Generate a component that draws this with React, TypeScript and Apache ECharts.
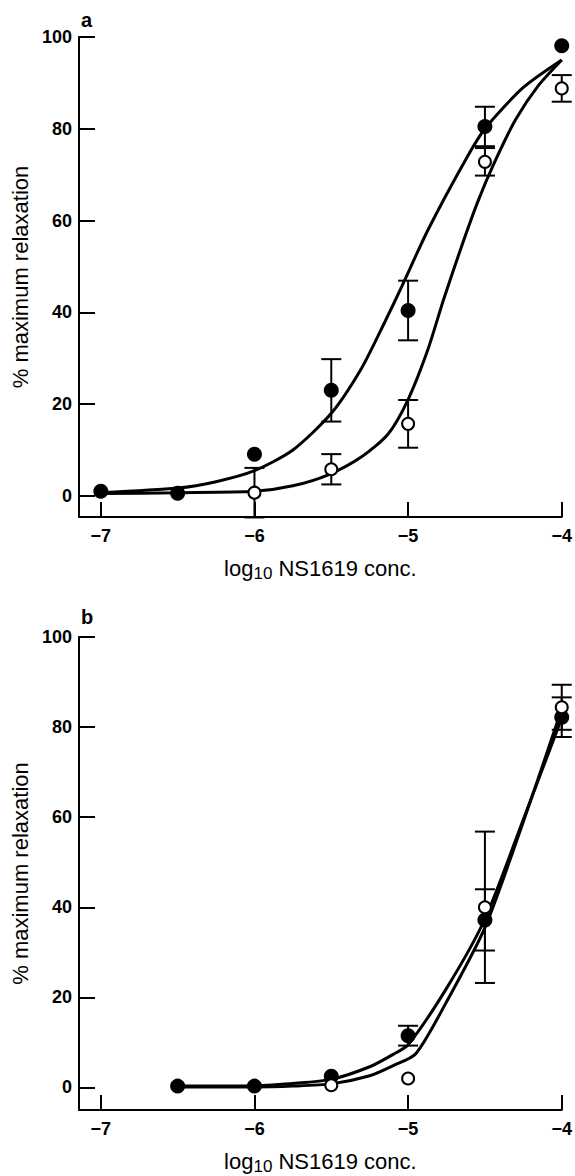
import React, { useEffect, useRef } from "react";
import * as echarts from "echarts";

const FONT = "Liberation Sans, Arial, Helvetica, sans-serif";

// Axis ticks and labels
const xTicks = [-7, -6, -5, -4];
const xTickLabels = ["−7", "−6", "−5", "−4"];
const yTicks = [0, 20, 40, 60, 80, 100];
const xTitle = "log{s|10} NS1619 conc.";
const yTitle = "% maximum relaxation";

// Panel a — filled circles
const aFilledX = [-7, -6.5, -6, -5.5, -5, -4.5, -4];
const aFilledY = [1.0, 0.6, 9.1, 23.0, 40.4, 80.5, 98.1];
const aFilledErr = [0, 0, 0, 6.8, 6.5, 4.3, 0];
// Panel a — open circles
const aOpenX = [-6, -5.5, -5, -4.5, -4];
const aOpenY = [0.7, 5.8, 15.7, 72.8, 88.8];
const aOpenErr = [5.4, 3.3, 5.2, 3.0, 2.9];
// Panel a — fitted curves
const aFilledCurveX = [-7, -6.5, -6.25, -6, -5.75, -5.5, -5.3, -5.15, -5.05, -4.87, -4.63, -4.5, -4.25, -4];
const aFilledCurveY = [0.7, 1.7, 3.1, 5.5, 10, 18, 28, 38, 45, 58, 73, 80, 89, 95];
const aOpenCurveX = [-7, -6.5, -6, -5.75, -5.52, -5.3, -5.13, -5, -4.87, -4.77, -4.66, -4.55, -4.44, -4.3, -4.15, -4];
const aOpenCurveY = [0.5, 0.7, 1.0, 2.2, 4.6, 8.6, 13.5, 21, 32, 42.7, 53.6, 63.8, 72.5, 82, 89.5, 95];

// Panel b — filled circles
const bFilledX = [-6.5, -6, -5.5, -5, -4.5, -4];
const bFilledY = [0.3, 0.3, 2.5, 11.5, 37.2, 82.2];
const bFilledErr = [0, 0, 0, 2.2, 6.8, 4.4];
// Panel b — open circles
const bOpenX = [-5.5, -5, -4.5, -4];
const bOpenY = [0.5, 2.0, 40.0, 84.4];
const bOpenErr = [0, 0, 16.8, 5.0];
// Panel b — fitted curves
const bFilledCurveX = [-6.5, -6, -5.75, -5.5, -5.25, -5.1, -5, -4.75, -4.5, -4.25, -4];
const bFilledCurveY = [0.3, 0.4, 0.9, 1.8, 4.6, 7.3, 9.5, 22, 37.4, 59.5, 82];
const bOpenCurveX = [-6.5, -6, -5.75, -5.5, -5.25, -5.1, -4.95, -4.75, -4.5, -4.25, -4];
const bOpenCurveY = [0.1, 0.1, 0.3, 0.8, 2.6, 4.8, 7.5, 19, 35.5, 59, 84];

const zip = (xs: number[], ys: number[]) => xs.map((x, i) => [x, ys[i]]);
const errData = (xs: number[], ys: number[], es: number[]) =>
  xs
    .map((x, i) => (es[i] ? [x, ys[i] - es[i], ys[i] + es[i]] : null))
    .filter((d) => d !== null);

const errRender = (params: any, api: any) => {
  const x = api.value(0);
  const lo = api.coord([x, api.value(1)]);
  const hi = api.coord([x, api.value(2)]);
  const hw = 10;
  const style = { stroke: "#000", lineWidth: 2, fill: null };
  return {
    type: "group",
    children: [
      { type: "line", shape: { x1: lo[0], y1: lo[1], x2: hi[0], y2: hi[1] }, style },
      { type: "line", shape: { x1: lo[0] - hw, y1: lo[1], x2: lo[0] + hw, y2: lo[1] }, style },
      { type: "line", shape: { x1: hi[0] - hw, y1: hi[1], x2: hi[0] + hw, y2: hi[1] }, style },
    ],
  };
};

const xAxisCfg = (gridIndex: number) => ({
  type: "value",
  gridIndex,
  min: -7.142,
  max: -4,
  name: xTitle,
  nameLocation: "middle",
  nameGap: 37,
  nameTextStyle: {
    color: "#000",
    fontSize: 22,
    fontFamily: FONT,
    lineHeight: 28,
    rich: { s: { fontSize: 17, fontFamily: FONT, color: "#000", lineHeight: 17, verticalAlign: "bottom" } },
  },
  axisLine: { onZero: false, lineStyle: { color: "#000", width: 2 } },
  axisTick: { inside: true, length: 15, customValues: xTicks, lineStyle: { color: "#000", width: 2 } },
  axisLabel: {
    customValues: xTicks,
    formatter: (v: number) => {
      const i = xTicks.findIndex((t) => Math.abs(t - v) < 1e-6);
      return i >= 0 ? xTickLabels[i] : "";
    },
    color: "#000",
    fontSize: 18,
    fontWeight: "bold",
    fontFamily: FONT,
    margin: 10,
  },
  splitLine: { show: false },
});

const yAxisCfg = (gridIndex: number, min: number) => ({
  type: "value",
  gridIndex,
  min,
  max: 100,
  name: yTitle,
  nameLocation: "middle",
  nameRotate: 90,
  nameGap: 43,
  nameTextStyle: { color: "#000", fontSize: 22, fontFamily: FONT },
  axisLine: { onZero: false, lineStyle: { color: "#000", width: 2 } },
  axisTick: { inside: true, length: 16, customValues: yTicks, lineStyle: { color: "#000", width: 2 } },
  axisLabel: {
    customValues: yTicks,
    color: "#000",
    fontSize: 18,
    fontWeight: "bold",
    fontFamily: FONT,
    margin: 7,
  },
  splitLine: { show: false },
});

const curve = (idx: number, xs: number[], ys: number[]) => ({
  type: "line",
  xAxisIndex: idx,
  yAxisIndex: idx,
  data: zip(xs, ys),
  smooth: 0.25,
  showSymbol: false,
  symbol: "none",
  clip: false,
  lineStyle: { color: "#000", width: 3 },
  z: 2,
});

const errSeries = (idx: number, xs: number[], ys: number[], es: number[]) => ({
  type: "custom",
  xAxisIndex: idx,
  yAxisIndex: idx,
  data: errData(xs, ys, es),
  encode: { x: 0, y: [1, 2] },
  renderItem: errRender,
  clip: false,
  z: 3,
});

const filled = (idx: number, xs: number[], ys: number[], z: number) => ({
  type: "scatter",
  xAxisIndex: idx,
  yAxisIndex: idx,
  data: zip(xs, ys),
  symbol: "circle",
  symbolSize: 15,
  itemStyle: { color: "#000", opacity: 1 },
  clip: false,
  z,
});

const open = (idx: number, xs: number[], ys: number[], z: number) => ({
  type: "scatter",
  xAxisIndex: idx,
  yAxisIndex: idx,
  data: zip(xs, ys),
  symbol: "circle",
  symbolSize: 12,
  itemStyle: { color: "#fff", borderColor: "#000", borderWidth: 2, opacity: 1 },
  clip: false,
  z,
});

export default function App() {
  const ref = useRef<HTMLDivElement>(null);
  useEffect(() => {
    document.body.style.margin = "0";
    const chart = echarts.init(ref.current!, null, { renderer: "svg" });
    chart.setOption({
      animation: false,
      backgroundColor: "#fff",
      grid: [
        { left: 79, top: 37, width: 486, height: 480 },
        { left: 79, top: 637, width: 486, height: 480 },
      ],
      xAxis: [xAxisCfg(0), xAxisCfg(1)],
      yAxis: [yAxisCfg(0, -4.6), yAxisCfg(1, -5)],
      graphic: [
        { type: "text", left: 81, top: 10, style: { text: "a", fontSize: 20, fontWeight: "bold", fontFamily: FONT, fill: "#000" } },
        { type: "text", left: 81, top: 607, style: { text: "b", fontSize: 20, fontWeight: "bold", fontFamily: FONT, fill: "#000" } },
      ],
      series: [
        curve(0, aFilledCurveX, aFilledCurveY),
        curve(0, aOpenCurveX, aOpenCurveY),
        errSeries(0, aFilledX, aFilledY, aFilledErr),
        errSeries(0, aOpenX, aOpenY, aOpenErr),
        open(0, aOpenX, aOpenY, 4),
        filled(0, aFilledX, aFilledY, 5),
        curve(1, bFilledCurveX, bFilledCurveY),
        curve(1, bOpenCurveX, bOpenCurveY),
        errSeries(1, bFilledX, bFilledY, bFilledErr),
        errSeries(1, bOpenX, bOpenY, bOpenErr),
        filled(1, bFilledX, bFilledY, 4),
        open(1, bOpenX, bOpenY, 5),
      ],
    });
    return () => chart.dispose();
  }, []);
  return <div ref={ref} style={{ width: 575, height: 1176 }} />;
}
